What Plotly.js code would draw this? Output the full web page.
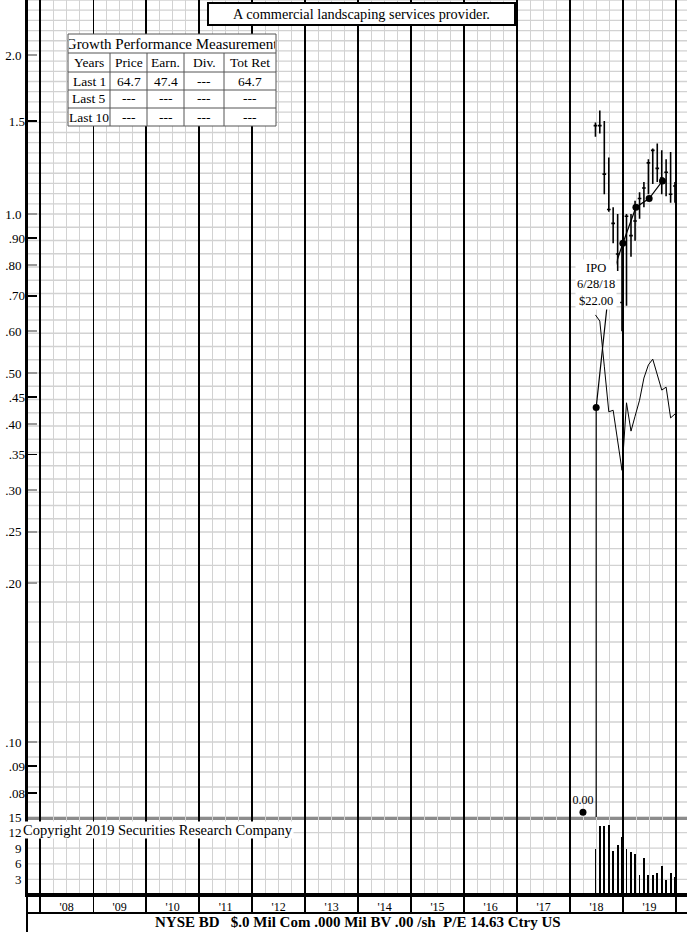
<!DOCTYPE html>
<html><head><meta charset="utf-8">
<script src="https://cdn.plot.ly/plotly-3.0.1.min.js"></script>
<style>html,body{margin:0;padding:0;background:#fff}#chart{width:687px;height:932px}</style>
</head><body><div id="chart"></div>
<script>
// ---------------- data ----------------
const months = ['2018-06-25','2018-07-25','2018-08-25','2018-09-25','2018-10-25','2018-11-25','2018-12-25',
  '2019-01-25','2019-02-25','2019-03-25','2019-04-25','2019-05-25','2019-06-25','2019-07-25','2019-08-25',
  '2019-09-25','2019-10-25','2019-11-25','2019-12-25'];
const priceHigh  = [1.49,1.57,1.50,1.28,1.03,1.00,0.88,1.00,1.00,1.06,1.10,1.15,1.27,1.33,1.36,1.32,1.27,1.31,1.15];
const priceLow   = [1.40,1.42,1.09,1.01,0.88,0.78,0.60,0.67,0.83,0.89,0.98,1.03,1.09,1.14,1.15,1.09,1.08,1.05,1.05];
const priceClose = [1.47,1.47,1.19,1.02,0.96,0.84,0.68,0.99,0.91,0.97,1.07,1.12,1.25,1.32,1.22,1.17,1.20,1.09,1.13];
const volume     = [8.8,13.3,13.3,13.5,8.5,9.6,11.2,8.8,8.3,7.9,3.8,7.1,3.8,3.8,4.2,5.6,2.9,4.2,3.5];
const relStrength= [0.644,0.627,0.515,0.422,0.425,0.373,0.327,0.439,0.388,0.414,0.444,0.489,0.518,0.531,0.496,0.464,0.470,0.411,0.418];
const epsDates   = ['2018-03-31','2018-06-30','2018-09-30','2018-12-31','2019-03-31','2019-06-30','2019-09-30'];
const epsValues  = [0.00,0.43,0.74,0.88,1.03,1.07,1.155];

const priceTicksMinor = [2.0,1.0,0.8,0.6,0.5,0.4,0.3,0.25,0.2,0.1];
const priceTicksMinorText = ['2.0','1.0','.80','.60','.50','.40','.30','.25','.20','.10'];
const priceTicksMajor = [1.5,0.9,0.7,0.45,0.35,0.09,0.08];
const priceTicksMajorText = ['1.5','.90','.70','.45','.35','.09','.08'];
const volumeTicks = [3,6,9,12,15];

const tableHeader = ['Years','Price','Earn.','Div.','Tot Ret'];
const tableYears  = ['Last 1','Last 5','Last 10'];
const tablePrice  = ['64.7','---','---'];
const tableEarn   = ['47.4','---','---'];
const tableDiv    = ['---','---','---'];
const tableTotRet = ['64.7','---','---'];

const chartTitle = 'A commercial landscaping services provider.';
const tableTitle = 'Growth Performance Measurement';
const ipoNote = 'IPO<br>6/28/18<br>$22.00';
const copyrightText = 'Copyright 2019 Securities Research Company';
const footerText = 'NYSE BD\u00a0\u00a0 $.0 Mil Com .000 Mil BV .00 /sh\u00a0\u00a0P/E 14.63 Ctry US';

// ---------------- layout helpers ----------------
const W = 687, H = 932, L = 27;
const py = p => (H - p) / H;
const px = p => (p - L) / (W - L);
const serif = 'Liberation Serif, Times New Roman, Times, serif';
const xRange = ['2007-10-03', '2020-03-17'];
const yRange = [-1.142, 0.4053];
const floorVal = Math.pow(10, yRange[0] + 0.009);
const gridGray = '#d2d2d2';

// graph-paper horizontal lines (pixel rows of the price panel)
function segGrid(segs){const o=[];segs.forEach(([a,b,n])=>{for(let i=0;i<n;i++)o.push(a+(b-a)*i/n);});o.push(segs[segs.length-1][1]);return o;}
const gridPx = segGrid([[0,214,21],[214,532,24],[532,582,3],[582,742,8],[742,817,5]]);
const hGrid = gridPx.map(p => ({type:'line', layer:'below', xref:'paper', yref:'paper', x0:0, x1:1,
  y0:py(p), y1:py(p), line:{color:gridGray, width:1.3}}))
  .concat(volumeTicks.map(v => ({type:'line', layer:'below', xref:'paper', yref:'y2', x0:0, x1:1,
  y0:v, y1:v, line:{color:gridGray, width:1.3}})));

// ---- performance table (drawn with shapes + annotations) ----
const colEdges = [68,110,147,184,224,276];
const rowEdges = [53,72,90,108,126];
const tblTop = 34;
const tableCols = [tableYears, tablePrice, tableEarn, tableDiv, tableTotRet];
const tblLine = {color:'#555', width:1};
const tblShapes = [{type:'rect', layer:'above', xref:'paper', yref:'paper', x0:px(colEdges[0]), x1:px(colEdges[5]),
  y0:py(rowEdges[rowEdges.length-1]), y1:py(tblTop), fillcolor:'#fff', line:tblLine}];
rowEdges.slice(0,-1).forEach(r => tblShapes.push({type:'line', layer:'above', xref:'paper', yref:'paper',
  x0:px(colEdges[0]), x1:px(colEdges[5]), y0:py(r), y1:py(r), line:tblLine}));
colEdges.slice(1,-1).forEach(c => tblShapes.push({type:'line', layer:'above', xref:'paper', yref:'paper',
  x0:px(c), x1:px(c), y0:py(rowEdges[0]), y1:py(rowEdges[rowEdges.length-1]), line:tblLine}));
const tblAnn = [];
const cellFont = {family:serif, size:13.5, color:'#000'};
tableHeader.forEach((h,c) => tblAnn.push({x:px((colEdges[c]+colEdges[c+1])/2), y:py((rowEdges[0]+rowEdges[1])/2), text:h, font:cellFont}));
tableCols.forEach((col,c) => col.forEach((v,r) => tblAnn.push({x:px((colEdges[c]+colEdges[c+1])/2),
  y:py((rowEdges[r+1]+rowEdges[r+2])/2), text:v, font:cellFont})));

// eps line: rises vertically from the floor after a zero quarter
const epsX = [], epsY = [], zeroX = [], zeroY = [], zeroT = [];
epsValues.forEach((v,i)=>{
  if (v === 0) { zeroX.push(epsDates[i]); zeroY.push(floorVal); zeroT.push(v.toFixed(2)); return; }
  if (i > 0 && epsValues[i-1] === 0) { epsX.push(epsDates[i]); epsY.push(Math.pow(10, yRange[0])); }
  epsX.push(epsDates[i]); epsY.push(v);
});
const epsMarkX = epsDates.filter((d,i)=>epsValues[i]>0);
const epsMarkY = epsValues.filter(v=>v>0);

const traces = [
  {type:'scatter', x:[], y:[], xaxis:'x3', yaxis:'y3', hoverinfo:'skip'},
  {type:'scatter', x:[], y:[], xaxis:'x', yaxis:'y4', hoverinfo:'skip'},
  {type:'scatter', x:months, y:relStrength, mode:'lines', line:{color:'#000', width:1}, xaxis:'x', yaxis:'y'},
  {type:'scatter', x:epsX, y:epsY, mode:'lines', line:{color:'#000', width:1.2}, xaxis:'x', yaxis:'y'},
  {type:'scatter', x:epsMarkX, y:epsMarkY, mode:'markers', marker:{color:'#000', size:7}, xaxis:'x', yaxis:'y'},
  {type:'scatter', x:zeroX, y:zeroY, mode:'markers+text', text:zeroT, textposition:'top center',
   textfont:{family:serif, size:12, color:'#000'}, marker:{color:'#000', size:7}, xaxis:'x', yaxis:'y'},
  {type:'ohlc', x:months, open:priceClose, high:priceHigh, low:priceLow, close:priceClose, tickwidth:0.45,
   increasing:{line:{color:'#000', width:1.6}}, decreasing:{line:{color:'#000', width:1.6}}, xaxis:'x', yaxis:'y'},
  {type:'bar', x:months, y:volume, width:1.1e9, marker:{color:'#000', line:{width:0}}, xaxis:'x2', yaxis:'y2'}
];

const xBase = {type:'date', range:xRange, autorange:false, dtick:'M12', tick0:'2008-01-01',
  showgrid:true, gridcolor:'#000', gridwidth:1.3, zeroline:false, fixedrange:true, rangeslider:{visible:false},
  minor:{dtick:'M3', tick0:'2008-01-01', showgrid:true, gridcolor:gridGray, gridwidth:1}};

const ann = (o) => Object.assign({xref:'paper', yref:'paper', showarrow:false, xanchor:'center', yanchor:'middle'}, o);

const layout = {
  width:W, height:H, margin:{l:L, r:0, t:0, b:0}, paper_bgcolor:'#fff', plot_bgcolor:'rgba(0,0,0,0)', showlegend:false,
  font:{family:serif, size:12, color:'#000'}, bargap:0,
  xaxis:Object.assign({}, xBase, {anchor:'y', showticklabels:false, ticks:'', showline:true, linecolor:'#8c8c8c', linewidth:3}),
  yaxis:{domain:[py(817),1], type:'log', range:yRange, autorange:false, tickvals:priceTicksMinor, ticktext:priceTicksMinorText,
    ticks:'inside', ticklen:10, tickcolor:'#9a9a9a', tickwidth:2, showgrid:false, zeroline:false, showline:true,
    linecolor:'#000', linewidth:2, tickfont:{family:serif, size:13}, anchor:'x', ticklabelstandoff:1, fixedrange:true},
  yaxis4:{overlaying:'y', anchor:'x', side:'left', type:'log', range:yRange, autorange:false, tickvals:priceTicksMajor,
    ticktext:priceTicksMajorText, ticks:'inside', ticklen:10, tickcolor:'#000', tickwidth:1.5, showgrid:false,
    zeroline:false, showline:false, tickfont:{family:serif, size:13}, ticklabelstandoff:1, fixedrange:true},
  xaxis2:Object.assign({}, xBase, {anchor:'y2', showticklabels:true, ticklabelmode:'period', tickformat:"'%y",
    ticks:'', tickfont:{family:serif, size:12}, showline:true, linecolor:'#000', linewidth:2}),
  yaxis2:{domain:[py(895), py(817)], range:[0,15], autorange:false, tickvals:volumeTicks, ticks:'', showgrid:false,
    zeroline:false, showline:true, linecolor:'#000', linewidth:2, anchor:'x2',
    tickfont:{family:serif, size:13}, ticklabelstandoff:1, fixedrange:true},
  xaxis3:{type:'date', range:xRange, autorange:false, anchor:'y3', showticklabels:false, ticks:'', dtick:'M12',
    tick0:'2008-01-01', showgrid:true, gridcolor:'#000', gridwidth:1.3,
    zeroline:false, showline:true, mirror:true, linecolor:'#000', linewidth:2, rangeslider:{visible:false}},
  yaxis3:{domain:[py(912), py(895)], range:[0,1], autorange:false, showticklabels:false, ticks:'', showgrid:false,
    zeroline:false, anchor:'x3'},
  shapes:hGrid.concat([{type:'line', xref:'paper', yref:'paper', x0:0, x1:0, y0:0, y1:1, line:{color:'#000', width:2}}])
    .concat(tblShapes),
  annotations:[
    ann({x:px(361.5), y:py(14), text:chartTitle, bgcolor:'#fff', bordercolor:'#000', borderwidth:2, borderpad:1,
      width:303, height:18, font:{family:serif, size:14.3}}),
    ann({x:px(172), y:py(43.5), text:tableTitle, borderpad:0, width:206, height:17, font:{family:serif, size:15}}),
    ann({x:px(596), y:py(284), text:ipoNote, bgcolor:'#fff', borderpad:1, font:{family:serif, size:12.5}}),
    ann({x:px(22), xanchor:'left', y:py(830), text:copyrightText, bgcolor:'#fff', borderpad:0, font:{family:serif, size:14.5}}),
    ann({x:px(358), y:py(922), text:'<b>'+footerText+'</b>', font:{family:serif, size:15}})
  ].concat(tblAnn.map(ann))
};

Plotly.newPlot('chart', traces, layout, {displayModeBar:false, staticPlot:true});
</script></body></html>
